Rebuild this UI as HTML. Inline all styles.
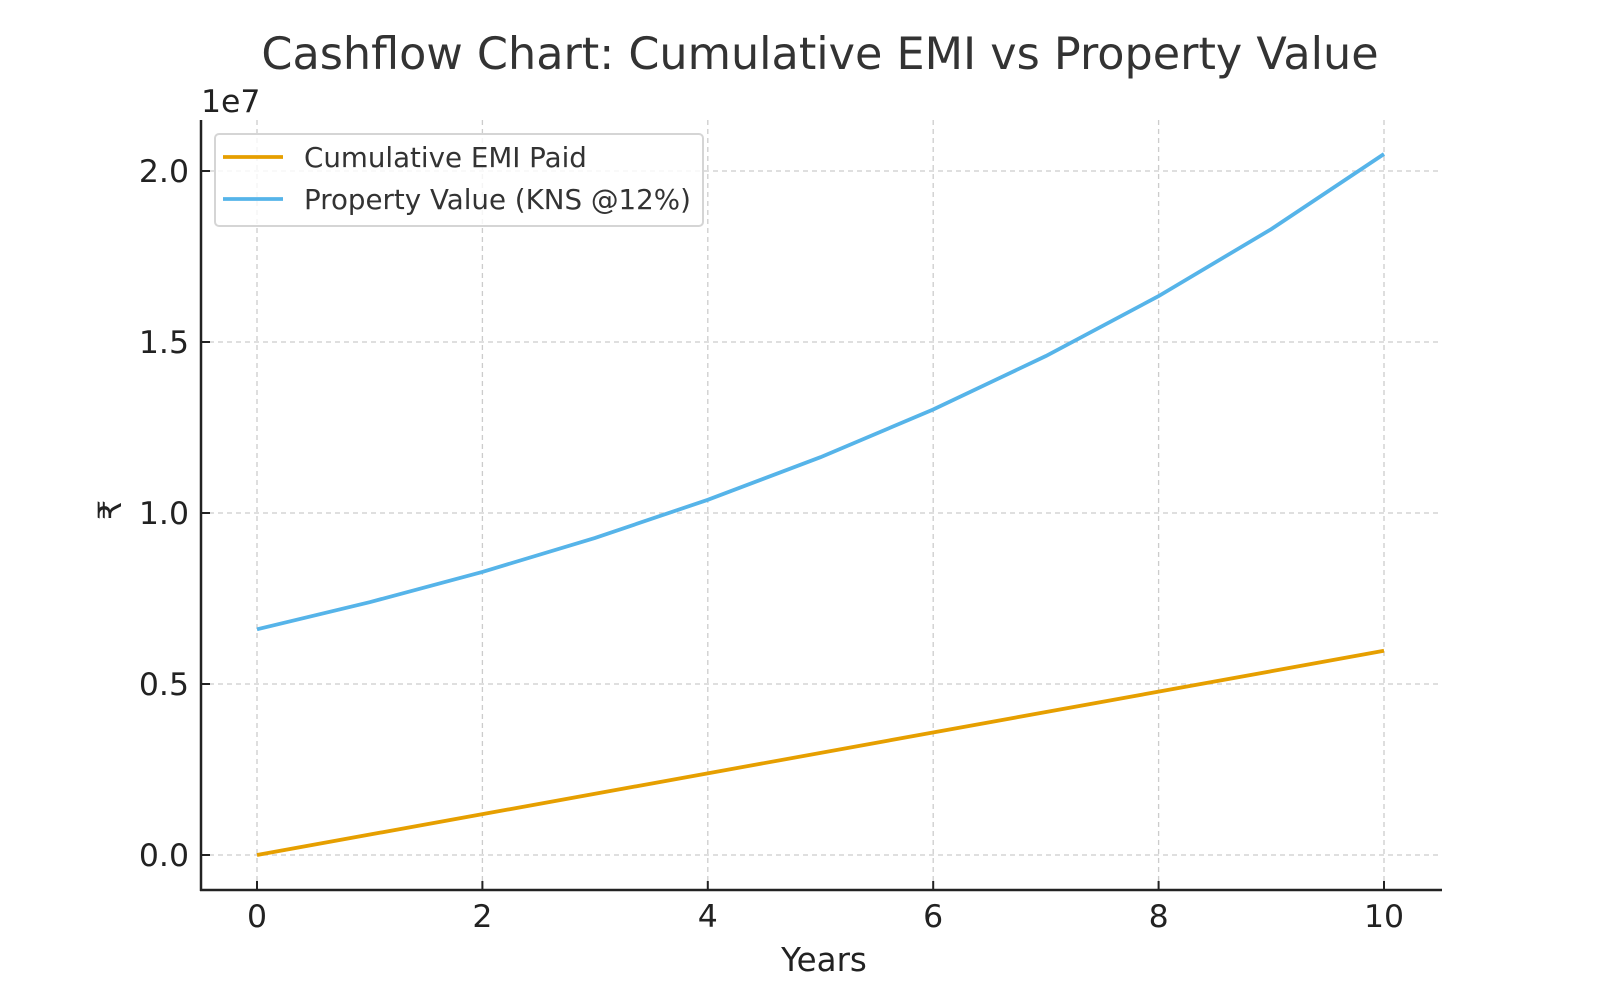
<!DOCTYPE html>
<html><head><meta charset="utf-8"><style>html,body{margin:0;background:#fff}</style></head>
<body>
<svg width="1600" height="1000" xmlns="http://www.w3.org/2000/svg" font-family="'DejaVu Sans','Liberation Sans',sans-serif">
<text x="820" y="69" font-size="44.5" fill="#333" text-anchor="middle">Cashflow Chart: Cumulative EMI vs Property Value</text>
<g stroke="#ccc" stroke-width="1.3" stroke-dasharray="5,4">
<line x1="257" y1="120" x2="257" y2="890"/><line x1="482.4" y1="120" x2="482.4" y2="890"/><line x1="707.8" y1="120" x2="707.8" y2="890"/><line x1="933.2" y1="120" x2="933.2" y2="890"/><line x1="1158.6" y1="120" x2="1158.6" y2="890"/><line x1="1384" y1="120" x2="1384" y2="890"/>
<line x1="200" y1="855" x2="1442" y2="855"/><line x1="200" y1="684" x2="1442" y2="684"/><line x1="200" y1="513" x2="1442" y2="513"/><line x1="200" y1="342" x2="1442" y2="342"/><line x1="200" y1="171" x2="1442" y2="171"/>
</g>
<g stroke="#222" stroke-width="2.5" fill="none">
<line x1="201" y1="120" x2="201" y2="891"/><line x1="200" y1="890" x2="1442" y2="890"/>
</g>
<g stroke="#222" stroke-width="2">
<line x1="257" y1="890" x2="257" y2="881"/><line x1="482.4" y1="890" x2="482.4" y2="881"/><line x1="707.8" y1="890" x2="707.8" y2="881"/><line x1="933.2" y1="890" x2="933.2" y2="881"/><line x1="1158.6" y1="890" x2="1158.6" y2="881"/><line x1="1384" y1="890" x2="1384" y2="881"/>
<line x1="201" y1="855" x2="210" y2="855"/><line x1="201" y1="684" x2="210" y2="684"/><line x1="201" y1="513" x2="210" y2="513"/><line x1="201" y1="342" x2="210" y2="342"/><line x1="201" y1="171" x2="210" y2="171"/>
</g>
<g font-size="31.5" fill="#222" text-anchor="middle">
<text x="257" y="927">0</text><text x="482.4" y="927">2</text><text x="707.8" y="927">4</text><text x="933.2" y="927">6</text><text x="1158.6" y="927">8</text><text x="1384" y="927">10</text>
</g>
<g font-size="31.5" fill="#222" text-anchor="end">
<text x="189" y="866">0.0</text><text x="189" y="695">0.5</text><text x="189" y="524">1.0</text><text x="189" y="353">1.5</text><text x="189" y="182">2.0</text>
</g>
<text x="201" y="112" font-size="31.5" fill="#222">1e7</text>
<text x="824" y="971" font-size="32.5" fill="#222" text-anchor="middle">Years</text>
<text transform="translate(121,510) rotate(-90)" font-size="32" fill="#222" text-anchor="middle">₹</text>
<polyline fill="none" stroke="#e69f00" stroke-width="3.8" points="257,855 1384,650.8"/>
<polyline fill="none" stroke="#56b4e9" stroke-width="3.8" points="257,629.3 369.7,602.2 482.4,571.9 595.1,537.9 707.8,499.8 820.5,457.2 933.2,409.5 1045.9,356 1158.6,296.1 1271.3,229.1 1384,154"/>
<rect x="215" y="134" width="488" height="92" rx="4" fill="#fff" fill-opacity="0.8" stroke="#d5d5d5" stroke-width="2"/>
<line x1="223" y1="157" x2="283" y2="157" stroke="#e69f00" stroke-width="3.8"/>
<line x1="223" y1="199" x2="283" y2="199" stroke="#56b4e9" stroke-width="3.8"/>
<g font-size="27.7" fill="#333"><text x="304" y="167">Cumulative EMI Paid</text><text x="304" y="209">Property Value (KNS @12%)</text></g>
</svg>
</body></html>
